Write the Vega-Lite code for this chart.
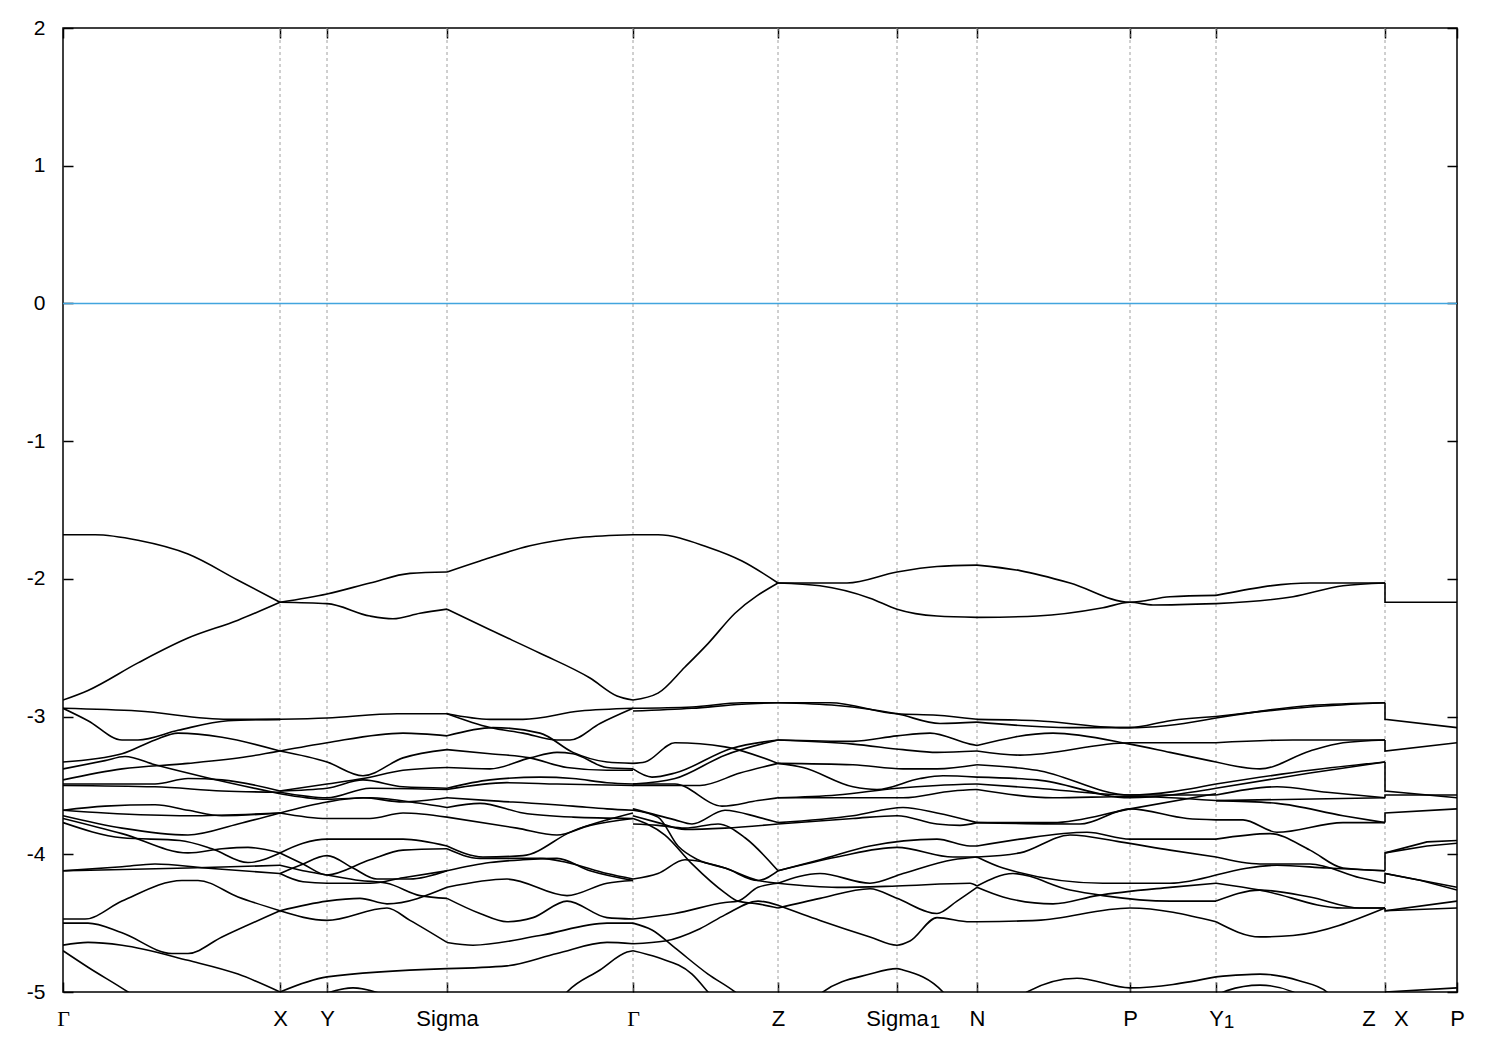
{
"$schema": "https://vega.github.io/schema/vega-lite/v6.json",
"width": 1394, "height": 964,
"autosize": "none",
"padding": {"left": 63, "top": 28, "right": 43, "bottom": 58},
"background": "white",
"config": {"view": {"stroke": "black", "strokeWidth": 1.5}, "font": "Liberation Sans"},
"resolve": {"axis": {"x": "independent", "y": "independent"}},
"datasets": {
"sym": [{"k":217},{"k":264},{"k":384},{"k":570},{"k":715},{"k":834},{"k":914},{"k":1067},{"k":1153},{"k":1322}],
"subs": [{"k":834,"t":"1","w":"Sigma"},{"k":1153,"t":"1","w":"Y"}],
"zx": [
{"s":"q1","i":0,"k":1322,"e":-2.03},{"s":"q1","i":1,"k":1322,"e":-2.17},{"s":"q1","i":2,"k":1394,"e":-2.17},
{"s":"q2","i":0,"k":1322,"e":-2.90},{"s":"q2","i":1,"k":1322,"e":-3.02},{"s":"q2","i":2,"k":1394,"e":-3.08},
{"s":"q3","i":0,"k":1322,"e":-3.17},{"s":"q3","i":1,"k":1322,"e":-3.25},{"s":"q3","i":2,"k":1394,"e":-3.19},
{"s":"q4","i":0,"k":1322,"e":-3.33},{"s":"q4","i":1,"k":1322,"e":-3.54},{"s":"q4","i":2,"k":1394,"e":-3.59},
{"s":"q5","i":0,"k":1322,"e":-3.59},{"s":"q5","i":1,"k":1322,"e":-3.57},{"s":"q5","i":2,"k":1394,"e":-3.57},
{"s":"q6","i":0,"k":1322,"e":-3.77},{"s":"q6","i":1,"k":1322,"e":-3.70},{"s":"q6","i":2,"k":1394,"e":-3.67},
{"s":"q7","i":0,"k":1322,"e":-4.12},{"s":"q7","i":1,"k":1322,"e":-3.99},{"s":"q7","i":2,"k":1364,"e":-3.91},{"s":"q7","i":3,"k":1394,"e":-3.90},
{"s":"q7b","i":0,"k":1322,"e":-3.99},{"s":"q7b","i":1,"k":1364,"e":-3.94},{"s":"q7b","i":2,"k":1394,"e":-3.92},
{"s":"q8","i":0,"k":1322,"e":-4.21},{"s":"q8","i":1,"k":1322,"e":-4.14},{"s":"q8","i":2,"k":1394,"e":-4.24},
{"s":"q8b","i":0,"k":1322,"e":-4.14},{"s":"q8b","i":1,"k":1358,"e":-4.19},{"s":"q8b","i":2,"k":1394,"e":-4.26},
{"s":"q9","i":0,"k":1322,"e":-4.39},{"s":"q9","i":1,"k":1322,"e":-4.41},{"s":"q9","i":2,"k":1394,"e":-4.34},
{"s":"q10","i":0,"k":1322,"e":-4.41},{"s":"q10","i":1,"k":1394,"e":-4.39},
{"s":"q11","i":0,"k":1322,"e":-5.00},{"s":"q11","i":1,"k":1394,"e":-4.97}
],
"bands": [
{"s":"g1","k":0,"e":-1.68},{"s":"g1","k":32,"e":-1.68},{"s":"g1","k":75,"e":-1.72},{"s":"g1","k":125,"e":-1.82},{"s":"g1","k":175,"e":-2.01},{"s":"g1","k":217,"e":-2.17},
{"s":"g2","k":0,"e":-2.88},{"s":"g2","k":25,"e":-2.81},{"s":"g2","k":75,"e":-2.61},{"s":"g2","k":125,"e":-2.43},{"s":"g2","k":175,"e":-2.30},{"s":"g2","k":217,"e":-2.17},
{"s":"g3","k":0,"e":-2.94},{"s":"g3","k":75,"e":-2.96},{"s":"g3","k":165,"e":-3.02},{"s":"g3","k":217,"e":-3.02},
{"s":"g4","k":0,"e":-2.94},{"s":"g4","k":25,"e":-3.03},{"s":"g4","k":59,"e":-3.17},{"s":"g4","k":75,"e":-3.17},{"s":"g4","k":115,"e":-3.10},{"s":"g4","k":165,"e":-3.03},{"s":"g4","k":217,"e":-3.02},
{"s":"g5","k":0,"e":-3.33},{"s":"g5","k":59,"e":-3.27},{"s":"g5","k":92,"e":-3.17},{"s":"g5","k":115,"e":-3.12},{"s":"g5","k":159,"e":-3.15},{"s":"g5","k":217,"e":-3.25},
{"s":"g6","k":0,"e":-3.38},{"s":"g6","k":42,"e":-3.32},{"s":"g6","k":62,"e":-3.29},{"s":"g6","k":92,"e":-3.35},{"s":"g6","k":142,"e":-3.44},{"s":"g6","k":217,"e":-3.56},
{"s":"g7","k":0,"e":-3.46},{"s":"g7","k":59,"e":-3.38},{"s":"g7","k":125,"e":-3.34},{"s":"g7","k":185,"e":-3.29},{"s":"g7","k":217,"e":-3.25},
{"s":"g8","k":0,"e":-3.49},{"s":"g8","k":92,"e":-3.49},{"s":"g8","k":125,"e":-3.45},{"s":"g8","k":159,"e":-3.46},{"s":"g8","k":217,"e":-3.54},
{"s":"g9","k":0,"e":-3.50},{"s":"g9","k":92,"e":-3.51},{"s":"g9","k":159,"e":-3.54},{"s":"g9","k":217,"e":-3.55},
{"s":"g10","k":0,"e":-3.68},{"s":"g10","k":42,"e":-3.65},{"s":"g10","k":92,"e":-3.64},{"s":"g10","k":125,"e":-3.68},{"s":"g10","k":159,"e":-3.72},{"s":"g10","k":217,"e":-3.70},
{"s":"g11","k":0,"e":-3.68},{"s":"g11","k":42,"e":-3.70},{"s":"g11","k":125,"e":-3.72},{"s":"g11","k":217,"e":-3.70},
{"s":"g12","k":0,"e":-3.72},{"s":"g12","k":59,"e":-3.81},{"s":"g12","k":125,"e":-3.86},{"s":"g12","k":175,"e":-3.78},{"s":"g12","k":217,"e":-3.70},
{"s":"g13","k":0,"e":-3.74},{"s":"g13","k":59,"e":-3.85},{"s":"g13","k":125,"e":-3.99},{"s":"g13","k":159,"e":-3.96},{"s":"g13","k":185,"e":-3.95},{"s":"g13","k":217,"e":-3.99},
{"s":"g14","k":0,"e":-3.77},{"s":"g14","k":59,"e":-3.88},{"s":"g14","k":117,"e":-3.90},{"s":"g14","k":149,"e":-3.96},{"s":"g14","k":185,"e":-4.06},{"s":"g14","k":217,"e":-3.99},
{"s":"g15","k":0,"e":-4.12},{"s":"g15","k":59,"e":-4.09},{"s":"g15","k":92,"e":-4.07},{"s":"g15","k":142,"e":-4.10},{"s":"g15","k":217,"e":-4.14},
{"s":"g16","k":0,"e":-4.12},{"s":"g16","k":125,"e":-4.10},{"s":"g16","k":217,"e":-4.08},
{"s":"g17","k":0,"e":-4.47},{"s":"g17","k":22,"e":-4.47},{"s":"g17","k":59,"e":-4.34},{"s":"g17","k":119,"e":-4.19},{"s":"g17","k":135,"e":-4.19},{"s":"g17","k":175,"e":-4.31},{"s":"g17","k":217,"e":-4.41},
{"s":"g18","k":0,"e":-4.50},{"s":"g18","k":25,"e":-4.50},{"s":"g18","k":59,"e":-4.57},{"s":"g18","k":109,"e":-4.72},{"s":"g18","k":125,"e":-4.72},{"s":"g18","k":159,"e":-4.60},{"s":"g18","k":217,"e":-4.41},
{"s":"g19","k":0,"e":-4.66},{"s":"g19","k":25,"e":-4.64},{"s":"g19","k":59,"e":-4.66},{"s":"g19","k":125,"e":-4.77},{"s":"g19","k":175,"e":-4.87},{"s":"g19","k":217,"e":-5.00},
{"s":"g20","k":0,"e":-4.70},{"s":"g20","k":25,"e":-4.82},{"s":"g20","k":65,"e":-5.00},{"s":"g20","k":77,"e":-5.06},
{"s":"h1","k":217,"e":-2.17},{"s":"h1","k":264,"e":-2.11},{"s":"h1","k":307,"e":-2.03},{"s":"h1","k":347,"e":-1.96},{"s":"h1","k":384,"e":-1.95},
{"s":"h2","k":217,"e":-2.17},{"s":"h2","k":264,"e":-2.18},{"s":"h2","k":307,"e":-2.27},{"s":"h2","k":330,"e":-2.29},{"s":"h2","k":357,"e":-2.25},{"s":"h2","k":384,"e":-2.22},
{"s":"h3","k":217,"e":-3.02},{"s":"h3","k":264,"e":-3.01},{"s":"h3","k":334,"e":-2.98},{"s":"h3","k":384,"e":-2.98},
{"s":"h5","k":217,"e":-3.25},{"s":"h5","k":264,"e":-3.19},{"s":"h5","k":340,"e":-3.12},{"s":"h5","k":384,"e":-3.14},
{"s":"h6","k":217,"e":-3.25},{"s":"h6","k":264,"e":-3.33},{"s":"h6","k":300,"e":-3.43},{"s":"h6","k":340,"e":-3.30},{"s":"h6","k":384,"e":-3.24},
{"s":"h7","k":217,"e":-3.54},{"s":"h7","k":264,"e":-3.49},{"s":"h7","k":300,"e":-3.45},{"s":"h7","k":340,"e":-3.39},{"s":"h7","k":384,"e":-3.37},
{"s":"h8","k":217,"e":-3.54},{"s":"h8","k":264,"e":-3.52},{"s":"h8","k":300,"e":-3.46},{"s":"h8","k":340,"e":-3.51},{"s":"h8","k":384,"e":-3.52},
{"s":"h9","k":217,"e":-3.55},{"s":"h9","k":264,"e":-3.59},{"s":"h9","k":307,"e":-3.52},{"s":"h9","k":384,"e":-3.53},
{"s":"h10","k":217,"e":-3.56},{"s":"h10","k":264,"e":-3.60},{"s":"h10","k":307,"e":-3.59},{"s":"h10","k":357,"e":-3.63},{"s":"h10","k":384,"e":-3.66},
{"s":"h11","k":217,"e":-3.70},{"s":"h11","k":264,"e":-3.62},{"s":"h11","k":300,"e":-3.59},{"s":"h11","k":340,"e":-3.62},{"s":"h11","k":384,"e":-3.59},
{"s":"h12","k":217,"e":-3.70},{"s":"h12","k":264,"e":-3.74},{"s":"h12","k":307,"e":-3.74},{"s":"h12","k":340,"e":-3.70},{"s":"h12","k":384,"e":-3.73},
{"s":"h13","k":217,"e":-3.99},{"s":"h13","k":240,"e":-3.92},{"s":"h13","k":264,"e":-3.89},{"s":"h13","k":340,"e":-3.89},{"s":"h13","k":384,"e":-3.94},
{"s":"h14","k":217,"e":-3.99},{"s":"h14","k":240,"e":-4.07},{"s":"h14","k":264,"e":-4.15},{"s":"h14","k":307,"e":-4.04},{"s":"h14","k":340,"e":-3.97},{"s":"h14","k":384,"e":-3.96},
{"s":"h15","k":217,"e":-4.14},{"s":"h15","k":237,"e":-4.08},{"s":"h15","k":264,"e":-4.01},{"s":"h15","k":290,"e":-4.10},{"s":"h15","k":314,"e":-4.18},{"s":"h15","k":347,"e":-4.18},{"s":"h15","k":384,"e":-4.12},
{"s":"h16","k":217,"e":-4.14},{"s":"h16","k":240,"e":-4.20},{"s":"h16","k":264,"e":-4.21},{"s":"h16","k":307,"e":-4.21},{"s":"h16","k":340,"e":-4.17},{"s":"h16","k":384,"e":-4.12},
{"s":"h17","k":217,"e":-4.08},{"s":"h17","k":240,"e":-4.12},{"s":"h17","k":264,"e":-4.15},{"s":"h17","k":297,"e":-4.19},{"s":"h17","k":324,"e":-4.21},{"s":"h17","k":357,"e":-4.30},{"s":"h17","k":384,"e":-4.32},
{"s":"h18","k":217,"e":-4.41},{"s":"h18","k":264,"e":-4.34},{"s":"h18","k":297,"e":-4.32},{"s":"h18","k":324,"e":-4.36},{"s":"h18","k":384,"e":-4.24},
{"s":"h19","k":217,"e":-4.41},{"s":"h19","k":264,"e":-4.48},{"s":"h19","k":324,"e":-4.39},{"s":"h19","k":347,"e":-4.48},{"s":"h19","k":384,"e":-4.64},
{"s":"h20","k":217,"e":-5.00},{"s":"h20","k":264,"e":-4.89},{"s":"h20","k":384,"e":-4.83},
{"s":"h21","k":255,"e":-5.03},{"s":"h21","k":290,"e":-4.97},{"s":"h21","k":325,"e":-5.03},
{"s":"i1","k":384,"e":-1.95},{"s":"i1","k":417,"e":-1.87},{"s":"i1","k":467,"e":-1.76},{"s":"i1","k":517,"e":-1.70},{"s":"i1","k":570,"e":-1.68},
{"s":"i2","k":384,"e":-2.22},{"s":"i2","k":427,"e":-2.37},{"s":"i2","k":477,"e":-2.54},{"s":"i2","k":527,"e":-2.72},{"s":"i2","k":554,"e":-2.85},{"s":"i2","k":570,"e":-2.88},
{"s":"i3","k":384,"e":-2.98},{"s":"i3","k":427,"e":-3.02},{"s":"i3","k":460,"e":-3.02},{"s":"i3","k":517,"e":-2.96},{"s":"i3","k":570,"e":-2.94},
{"s":"i4","k":384,"e":-2.98},{"s":"i4","k":427,"e":-3.08},{"s":"i4","k":460,"e":-3.12},{"s":"i4","k":494,"e":-3.17},{"s":"i4","k":507,"e":-3.17},{"s":"i4","k":537,"e":-3.05},{"s":"i4","k":570,"e":-2.94},
{"s":"i5","k":384,"e":-3.14},{"s":"i5","k":430,"e":-3.08},{"s":"i5","k":477,"e":-3.12},{"s":"i5","k":510,"e":-3.26},{"s":"i5","k":544,"e":-3.33},{"s":"i5","k":570,"e":-3.34},
{"s":"i6","k":384,"e":-3.24},{"s":"i6","k":427,"e":-3.27},{"s":"i6","k":467,"e":-3.30},{"s":"i6","k":504,"e":-3.37},{"s":"i6","k":544,"e":-3.39},{"s":"i6","k":570,"e":-3.39},
{"s":"i7","k":384,"e":-3.37},{"s":"i7","k":427,"e":-3.38},{"s":"i7","k":467,"e":-3.30},{"s":"i7","k":494,"e":-3.26},{"s":"i7","k":510,"e":-3.27},{"s":"i7","k":544,"e":-3.37},{"s":"i7","k":570,"e":-3.38},
{"s":"i8","k":384,"e":-3.52},{"s":"i8","k":427,"e":-3.46},{"s":"i8","k":477,"e":-3.44},{"s":"i8","k":510,"e":-3.45},{"s":"i8","k":544,"e":-3.48},{"s":"i8","k":570,"e":-3.49},
{"s":"i9","k":384,"e":-3.53},{"s":"i9","k":444,"e":-3.48},{"s":"i9","k":494,"e":-3.49},{"s":"i9","k":570,"e":-3.50},
{"s":"i10","k":384,"e":-3.59},{"s":"i10","k":427,"e":-3.61},{"s":"i10","k":510,"e":-3.65},{"s":"i10","k":544,"e":-3.67},{"s":"i10","k":570,"e":-3.68},
{"s":"i11","k":384,"e":-3.66},{"s":"i11","k":417,"e":-3.63},{"s":"i11","k":460,"e":-3.70},{"s":"i11","k":510,"e":-3.73},{"s":"i11","k":570,"e":-3.74},
{"s":"i12","k":384,"e":-3.73},{"s":"i12","k":454,"e":-3.81},{"s":"i12","k":494,"e":-3.86},{"s":"i12","k":527,"e":-3.79},{"s":"i12","k":570,"e":-3.74},
{"s":"i13","k":384,"e":-3.94},{"s":"i13","k":420,"e":-4.02},{"s":"i13","k":460,"e":-4.01},{"s":"i13","k":510,"e":-3.83},{"s":"i13","k":544,"e":-3.75},{"s":"i13","k":570,"e":-3.70},
{"s":"i14","k":384,"e":-3.96},{"s":"i14","k":417,"e":-4.03},{"s":"i14","k":477,"e":-4.03},{"s":"i14","k":504,"e":-4.06},{"s":"i14","k":544,"e":-4.14},{"s":"i14","k":570,"e":-4.18},
{"s":"i15","k":384,"e":-4.12},{"s":"i15","k":427,"e":-4.06},{"s":"i15","k":460,"e":-4.04},{"s":"i15","k":494,"e":-4.03},{"s":"i15","k":527,"e":-4.12},{"s":"i15","k":570,"e":-4.19},
{"s":"i16","k":384,"e":-4.24},{"s":"i16","k":444,"e":-4.18},{"s":"i16","k":504,"e":-4.30},{"s":"i16","k":544,"e":-4.21},{"s":"i16","k":570,"e":-4.19},
{"s":"i17","k":384,"e":-4.32},{"s":"i17","k":417,"e":-4.43},{"s":"i17","k":444,"e":-4.49},{"s":"i17","k":470,"e":-4.46},{"s":"i17","k":504,"e":-4.34},{"s":"i17","k":544,"e":-4.46},{"s":"i17","k":570,"e":-4.47},
{"s":"i18","k":384,"e":-4.64},{"s":"i18","k":410,"e":-4.66},{"s":"i18","k":477,"e":-4.59},{"s":"i18","k":544,"e":-4.50},{"s":"i18","k":570,"e":-4.50},
{"s":"i19","k":384,"e":-4.83},{"s":"i19","k":444,"e":-4.81},{"s":"i19","k":494,"e":-4.72},{"s":"i19","k":544,"e":-4.64},{"s":"i19","k":570,"e":-4.65},
{"s":"i20","k":497,"e":-5.06},{"s":"i20","k":504,"e":-5.00},{"s":"i20","k":537,"e":-4.84},{"s":"i20","k":564,"e":-4.71},{"s":"i20","k":570,"e":-4.70},
{"s":"j1","k":570,"e":-1.68},{"s":"j1","k":595,"e":-1.68},{"s":"j1","k":645,"e":-1.77},{"s":"j1","k":679,"e":-1.87},{"s":"j1","k":715,"e":-2.03},
{"s":"j2","k":570,"e":-2.88},{"s":"j2","k":595,"e":-2.83},{"s":"j2","k":622,"e":-2.64},{"s":"j2","k":645,"e":-2.47},{"s":"j2","k":672,"e":-2.25},{"s":"j2","k":715,"e":-2.03},
{"s":"j3","k":570,"e":-2.94},{"s":"j3","k":629,"e":-2.93},{"s":"j3","k":679,"e":-2.90},{"s":"j3","k":715,"e":-2.90},
{"s":"j3b","k":570,"e":-2.96},{"s":"j3b","k":629,"e":-2.94},{"s":"j3b","k":679,"e":-2.91},{"s":"j3b","k":715,"e":-2.90},
{"s":"j4","k":570,"e":-3.34},{"s":"j4","k":582,"e":-3.33},{"s":"j4","k":612,"e":-3.19},{"s":"j4","k":662,"e":-3.22},{"s":"j4","k":715,"e":-3.34},
{"s":"j5","k":570,"e":-3.38},{"s":"j5","k":589,"e":-3.44},{"s":"j5","k":612,"e":-3.41},{"s":"j5","k":669,"e":-3.23},{"s":"j5","k":715,"e":-3.17},
{"s":"j6","k":570,"e":-3.49},{"s":"j6","k":612,"e":-3.45},{"s":"j6","k":662,"e":-3.28},{"s":"j6","k":715,"e":-3.17},
{"s":"j7","k":570,"e":-3.50},{"s":"j7","k":637,"e":-3.50},{"s":"j7","k":677,"e":-3.41},{"s":"j7","k":715,"e":-3.34},
{"s":"j8","k":570,"e":-3.49},{"s":"j8","k":612,"e":-3.49},{"s":"j8","k":659,"e":-3.65},{"s":"j8","k":695,"e":-3.61},{"s":"j8","k":715,"e":-3.59},
{"s":"j9","k":570,"e":-3.67},{"s":"j9","k":612,"e":-3.75},{"s":"j9","k":629,"e":-3.78},{"s":"j9","k":662,"e":-3.68},{"s":"j9","k":695,"e":-3.73},{"s":"j9","k":715,"e":-3.77},
{"s":"j10","k":570,"e":-3.72},{"s":"j10","k":595,"e":-3.77},{"s":"j10","k":622,"e":-3.82},{"s":"j10","k":662,"e":-3.81},{"s":"j10","k":715,"e":-3.78},
{"s":"j11","k":570,"e":-3.78},{"s":"j11","k":595,"e":-3.79},{"s":"j11","k":622,"e":-3.81},{"s":"j11","k":655,"e":-3.78},{"s":"j11","k":682,"e":-3.88},{"s":"j11","k":715,"e":-4.12},
{"s":"j12","k":570,"e":-3.68},{"s":"j12","k":595,"e":-3.73},{"s":"j12","k":615,"e":-3.94},{"s":"j12","k":635,"e":-4.04},{"s":"j12","k":662,"e":-4.10},{"s":"j12","k":695,"e":-4.19},{"s":"j12","k":715,"e":-4.21},
{"s":"j13","k":570,"e":-4.18},{"s":"j13","k":595,"e":-4.14},{"s":"j13","k":622,"e":-4.04},{"s":"j13","k":662,"e":-4.10},{"s":"j13","k":695,"e":-4.19},{"s":"j13","k":715,"e":-4.12},
{"s":"j14","k":570,"e":-3.74},{"s":"j14","k":602,"e":-3.86},{"s":"j14","k":629,"e":-4.07},{"s":"j14","k":662,"e":-4.28},{"s":"j14","k":675,"e":-4.34},{"s":"j14","k":695,"e":-4.36},{"s":"j14","k":715,"e":-4.39},
{"s":"j15","k":570,"e":-4.47},{"s":"j15","k":612,"e":-4.43},{"s":"j15","k":662,"e":-4.35},{"s":"j15","k":675,"e":-4.34},{"s":"j15","k":695,"e":-4.24},{"s":"j15","k":715,"e":-4.21},
{"s":"j16","k":570,"e":-4.50},{"s":"j16","k":589,"e":-4.55},{"s":"j16","k":612,"e":-4.68},{"s":"j16","k":645,"e":-4.87},{"s":"j16","k":672,"e":-5.00},{"s":"j16","k":682,"e":-5.06},
{"s":"j17","k":570,"e":-4.65},{"s":"j17","k":602,"e":-4.63},{"s":"j17","k":637,"e":-4.54},{"s":"j17","k":662,"e":-4.44},{"s":"j17","k":695,"e":-4.34},{"s":"j17","k":715,"e":-4.37},
{"s":"j18","k":570,"e":-4.70},{"s":"j18","k":595,"e":-4.75},{"s":"j18","k":629,"e":-4.87},{"s":"j18","k":645,"e":-5.00},{"s":"j18","k":652,"e":-5.06},
{"s":"m1","k":715,"e":-2.03},{"s":"m1","k":784,"e":-2.03},{"s":"m1","k":834,"e":-1.95},{"s":"m1","k":874,"e":-1.91},{"s":"m1","k":914,"e":-1.90},
{"s":"m2","k":715,"e":-2.03},{"s":"m2","k":757,"e":-2.05},{"s":"m2","k":807,"e":-2.14},{"s":"m2","k":834,"e":-2.22},{"s":"m2","k":874,"e":-2.27},{"s":"m2","k":914,"e":-2.28},
{"s":"m3","k":715,"e":-2.90},{"s":"m3","k":767,"e":-2.90},{"s":"m3","k":834,"e":-2.98},{"s":"m3","k":874,"e":-2.99},{"s":"m3","k":914,"e":-3.02},
{"s":"m4","k":715,"e":-2.90},{"s":"m4","k":774,"e":-2.92},{"s":"m4","k":834,"e":-2.98},{"s":"m4","k":877,"e":-3.05},{"s":"m4","k":914,"e":-3.04},
{"s":"m5","k":715,"e":-3.17},{"s":"m5","k":790,"e":-3.18},{"s":"m5","k":834,"e":-3.14},{"s":"m5","k":867,"e":-3.12},{"s":"m5","k":907,"e":-3.20},{"s":"m5","k":914,"e":-3.21},
{"s":"m6","k":715,"e":-3.17},{"s":"m6","k":790,"e":-3.20},{"s":"m6","k":840,"e":-3.24},{"s":"m6","k":874,"e":-3.26},{"s":"m6","k":914,"e":-3.25},
{"s":"m7","k":715,"e":-3.34},{"s":"m7","k":790,"e":-3.35},{"s":"m7","k":840,"e":-3.38},{"s":"m7","k":874,"e":-3.38},{"s":"m7","k":914,"e":-3.35},
{"s":"m8","k":715,"e":-3.34},{"s":"m8","k":740,"e":-3.37},{"s":"m8","k":790,"e":-3.51},{"s":"m8","k":814,"e":-3.53},{"s":"m8","k":857,"e":-3.45},{"s":"m8","k":880,"e":-3.43},{"s":"m8","k":914,"e":-3.44},
{"s":"m9","k":715,"e":-3.59},{"s":"m9","k":774,"e":-3.57},{"s":"m9","k":834,"e":-3.52},{"s":"m9","k":874,"e":-3.50},{"s":"m9","k":914,"e":-3.49},
{"s":"m10","k":715,"e":-3.59},{"s":"m10","k":774,"e":-3.59},{"s":"m10","k":840,"e":-3.59},{"s":"m10","k":890,"e":-3.54},{"s":"m10","k":914,"e":-3.53},
{"s":"m11","k":715,"e":-3.77},{"s":"m11","k":790,"e":-3.72},{"s":"m11","k":840,"e":-3.66},{"s":"m11","k":874,"e":-3.70},{"s":"m11","k":914,"e":-3.77},
{"s":"m12","k":715,"e":-3.78},{"s":"m12","k":790,"e":-3.74},{"s":"m12","k":834,"e":-3.72},{"s":"m12","k":874,"e":-3.78},{"s":"m12","k":897,"e":-3.79},{"s":"m12","k":914,"e":-3.77},
{"s":"m13","k":715,"e":-4.12},{"s":"m13","k":757,"e":-4.04},{"s":"m13","k":807,"e":-3.94},{"s":"m13","k":874,"e":-3.89},{"s":"m13","k":907,"e":-3.94},{"s":"m13","k":914,"e":-3.94},
{"s":"m14","k":715,"e":-4.12},{"s":"m14","k":774,"e":-4.02},{"s":"m14","k":834,"e":-3.95},{"s":"m14","k":890,"e":-4.02},{"s":"m14","k":914,"e":-4.02},
{"s":"m15","k":715,"e":-4.21},{"s":"m15","k":757,"e":-4.14},{"s":"m15","k":807,"e":-4.21},{"s":"m15","k":840,"e":-4.14},{"s":"m15","k":890,"e":-4.04},{"s":"m15","k":914,"e":-4.02},
{"s":"m16","k":715,"e":-4.21},{"s":"m16","k":774,"e":-4.24},{"s":"m16","k":834,"e":-4.23},{"s":"m16","k":907,"e":-4.21},{"s":"m16","k":914,"e":-4.23},
{"s":"m17","k":715,"e":-4.39},{"s":"m17","k":757,"e":-4.32},{"s":"m17","k":807,"e":-4.25},{"s":"m17","k":834,"e":-4.32},{"s":"m17","k":874,"e":-4.43},{"s":"m17","k":894,"e":-4.34},{"s":"m17","k":914,"e":-4.24},
{"s":"m18","k":715,"e":-4.37},{"s":"m18","k":757,"e":-4.48},{"s":"m18","k":807,"e":-4.60},{"s":"m18","k":834,"e":-4.66},{"s":"m18","k":847,"e":-4.63},{"s":"m18","k":874,"e":-4.46},{"s":"m18","k":907,"e":-4.49},{"s":"m18","k":914,"e":-4.49},
{"s":"m19","k":752,"e":-5.06},{"s":"m19","k":760,"e":-5.00},{"s":"m19","k":807,"e":-4.87},{"s":"m19","k":834,"e":-4.83},{"s":"m19","k":840,"e":-4.84},{"s":"m19","k":880,"e":-5.00},{"s":"m19","k":887,"e":-5.06},
{"s":"n1","k":914,"e":-1.90},{"s":"n1","k":957,"e":-1.94},{"s":"n1","k":1007,"e":-2.03},{"s":"n1","k":1067,"e":-2.17},{"s":"n1","k":1107,"e":-2.13},{"s":"n1","k":1153,"e":-2.12},
{"s":"n2","k":914,"e":-2.28},{"s":"n2","k":974,"e":-2.27},{"s":"n2","k":1040,"e":-2.21},{"s":"n2","k":1067,"e":-2.17},{"s":"n2","k":1090,"e":-2.19},{"s":"n2","k":1153,"e":-2.18},
{"s":"n3","k":914,"e":-3.02},{"s":"n3","k":974,"e":-3.03},{"s":"n3","k":1057,"e":-3.08},{"s":"n3","k":1074,"e":-3.08},{"s":"n3","k":1153,"e":-3.01},
{"s":"n4","k":914,"e":-3.04},{"s":"n4","k":1007,"e":-3.08},{"s":"n4","k":1067,"e":-3.08},{"s":"n4","k":1107,"e":-3.03},{"s":"n4","k":1153,"e":-3.00},
{"s":"n5","k":914,"e":-3.21},{"s":"n5","k":990,"e":-3.12},{"s":"n5","k":1067,"e":-3.20},{"s":"n5","k":1107,"e":-3.26},{"s":"n5","k":1153,"e":-3.33},
{"s":"n6","k":914,"e":-3.25},{"s":"n6","k":957,"e":-3.28},{"s":"n6","k":1067,"e":-3.19},{"s":"n6","k":1153,"e":-3.19},
{"s":"n7","k":914,"e":-3.35},{"s":"n7","k":974,"e":-3.39},{"s":"n7","k":1067,"e":-3.57},{"s":"n7","k":1153,"e":-3.49},
{"s":"n8","k":914,"e":-3.44},{"s":"n8","k":974,"e":-3.46},{"s":"n8","k":1067,"e":-3.59},{"s":"n8","k":1153,"e":-3.52},
{"s":"n9","k":914,"e":-3.49},{"s":"n9","k":974,"e":-3.52},{"s":"n9","k":1067,"e":-3.57},{"s":"n9","k":1153,"e":-3.57},
{"s":"n10","k":914,"e":-3.53},{"s":"n10","k":990,"e":-3.59},{"s":"n10","k":1067,"e":-3.58},{"s":"n10","k":1153,"e":-3.61},
{"s":"n11","k":914,"e":-3.77},{"s":"n11","k":990,"e":-3.77},{"s":"n11","k":1067,"e":-3.67},{"s":"n11","k":1153,"e":-3.56},
{"s":"n12","k":914,"e":-3.77},{"s":"n12","k":1017,"e":-3.78},{"s":"n12","k":1067,"e":-3.67},{"s":"n12","k":1124,"e":-3.74},{"s":"n12","k":1153,"e":-3.75},
{"s":"n13","k":914,"e":-3.94},{"s":"n13","k":957,"e":-3.89},{"s":"n13","k":1024,"e":-3.84},{"s":"n13","k":1067,"e":-3.89},{"s":"n13","k":1153,"e":-3.89},
{"s":"n14","k":914,"e":-4.02},{"s":"n14","k":957,"e":-3.99},{"s":"n14","k":1007,"e":-3.86},{"s":"n14","k":1057,"e":-3.91},{"s":"n14","k":1107,"e":-3.97},{"s":"n14","k":1153,"e":-4.02},
{"s":"n15","k":914,"e":-4.02},{"s":"n15","k":940,"e":-4.10},{"s":"n15","k":1040,"e":-4.21},{"s":"n15","k":1107,"e":-4.21},{"s":"n15","k":1153,"e":-4.15},
{"s":"n16","k":914,"e":-4.23},{"s":"n16","k":950,"e":-4.14},{"s":"n16","k":1007,"e":-4.26},{"s":"n16","k":1040,"e":-4.30},{"s":"n16","k":1107,"e":-4.34},{"s":"n16","k":1153,"e":-4.34},
{"s":"n17","k":914,"e":-4.24},{"s":"n17","k":940,"e":-4.31},{"s":"n17","k":990,"e":-4.36},{"s":"n17","k":1034,"e":-4.30},{"s":"n17","k":1107,"e":-4.24},{"s":"n17","k":1153,"e":-4.21},
{"s":"n18","k":914,"e":-4.49},{"s":"n18","k":974,"e":-4.48},{"s":"n18","k":1067,"e":-4.39},{"s":"n18","k":1153,"e":-4.49},
{"s":"n19","k":957,"e":-5.06},{"s":"n19","k":964,"e":-5.00},{"s":"n19","k":1014,"e":-4.90},{"s":"n19","k":1067,"e":-4.97},{"s":"n19","k":1153,"e":-4.89},
{"s":"p1","k":1153,"e":-2.12},{"s":"p1","k":1247,"e":-2.03},{"s":"p1","k":1322,"e":-2.03},
{"s":"p2","k":1153,"e":-2.18},{"s":"p2","k":1230,"e":-2.13},{"s":"p2","k":1280,"e":-2.05},{"s":"p2","k":1322,"e":-2.03},
{"s":"p3","k":1153,"e":-3.01},{"s":"p3","k":1247,"e":-2.92},{"s":"p3","k":1322,"e":-2.90},
{"s":"p4","k":1153,"e":-3.00},{"s":"p4","k":1247,"e":-2.93},{"s":"p4","k":1322,"e":-2.90},
{"s":"p5","k":1153,"e":-3.19},{"s":"p5","k":1230,"e":-3.17},{"s":"p5","k":1322,"e":-3.17},
{"s":"p6","k":1153,"e":-3.33},{"s":"p6","k":1197,"e":-3.38},{"s":"p6","k":1247,"e":-3.25},{"s":"p6","k":1280,"e":-3.19},{"s":"p6","k":1322,"e":-3.17},
{"s":"p7","k":1153,"e":-3.49},{"s":"p7","k":1247,"e":-3.39},{"s":"p7","k":1322,"e":-3.33},
{"s":"p8","k":1153,"e":-3.52},{"s":"p8","k":1247,"e":-3.41},{"s":"p8","k":1322,"e":-3.33},
{"s":"p9","k":1153,"e":-3.57},{"s":"p9","k":1214,"e":-3.51},{"s":"p9","k":1264,"e":-3.55},{"s":"p9","k":1322,"e":-3.59},
{"s":"p10","k":1153,"e":-3.61},{"s":"p10","k":1214,"e":-3.63},{"s":"p10","k":1280,"e":-3.72},{"s":"p10","k":1322,"e":-3.77},
{"s":"p11","k":1153,"e":-3.61},{"s":"p11","k":1322,"e":-3.59},
{"s":"p12","k":1153,"e":-3.75},{"s":"p12","k":1180,"e":-3.75},{"s":"p12","k":1214,"e":-3.84},{"s":"p12","k":1280,"e":-3.77},{"s":"p12","k":1322,"e":-3.77},
{"s":"p13","k":1153,"e":-3.89},{"s":"p13","k":1207,"e":-3.85},{"s":"p13","k":1247,"e":-3.97},{"s":"p13","k":1280,"e":-4.10},{"s":"p13","k":1322,"e":-4.12},
{"s":"p14","k":1153,"e":-4.02},{"s":"p14","k":1197,"e":-4.07},{"s":"p14","k":1247,"e":-4.07},{"s":"p14","k":1297,"e":-4.17},{"s":"p14","k":1322,"e":-4.21},
{"s":"p15","k":1153,"e":-4.15},{"s":"p15","k":1214,"e":-4.08},{"s":"p15","k":1264,"e":-4.10},{"s":"p15","k":1322,"e":-4.12},
{"s":"p16","k":1153,"e":-4.21},{"s":"p16","k":1197,"e":-4.26},{"s":"p16","k":1280,"e":-4.39},{"s":"p16","k":1322,"e":-4.39},
{"s":"p17","k":1153,"e":-4.34},{"s":"p17","k":1197,"e":-4.26},{"s":"p17","k":1247,"e":-4.31},{"s":"p17","k":1297,"e":-4.39},{"s":"p17","k":1322,"e":-4.39},
{"s":"p18","k":1153,"e":-4.49},{"s":"p18","k":1197,"e":-4.60},{"s":"p18","k":1230,"e":-4.59},{"s":"p18","k":1322,"e":-4.39},
{"s":"p19","k":1153,"e":-4.89},{"s":"p19","k":1197,"e":-4.87},{"s":"p19","k":1237,"e":-4.92},{"s":"p19","k":1264,"e":-5.00},{"s":"p19","k":1272,"e":-5.06},
{"s":"p20","k":1152,"e":-5.03},{"s":"p20","k":1164,"e":-4.99},{"s":"p20","k":1197,"e":-4.95},{"s":"p20","k":1230,"e":-5.00},{"s":"p20","k":1237,"e":-5.03}
]
},
"layer": [
{
"data": {"name": "sym"},
"mark": {"type": "rule", "color": "#a0a0a0", "strokeDash": [3, 3], "strokeWidth": 1},
"encoding": {
"x": {"field": "k", "type": "quantitative", "scale": {"domain": [0, 1394], "nice": false, "zero": false},
"axis": {"orient": "top", "values": [0,217,264,384,570,715,834,914,1067,1153,1322,1394], "labels": false, "tickSize": -10, "tickColor": "black", "tickWidth": 1.5, "domain": false, "grid": false, "title": null}}
}
},
{
"data": {"values": [{"e0": 0}]},
"mark": {"type": "rule", "color": "#42a5de", "strokeWidth": 1.5},
"encoding": {
"y": {"field": "e0", "type": "quantitative", "scale": {"domain": [-5, 2], "nice": false, "zero": false},
"axis": {"orient": "right", "values": [-5,-4,-3,-2,-1,0,1,2], "labels": false, "tickSize": -10, "tickColor": "black", "tickWidth": 1.5, "domain": false, "grid": false, "title": null}}
}
},
{
"data": {"name": "bands"},
"mark": {"type": "line", "interpolate": "monotone", "color": "black", "strokeWidth": 1.6, "clip": true},
"encoding": {
"x": {"field": "k", "type": "quantitative", "scale": {"domain": [0, 1394], "nice": false, "zero": false},
"axis": {"orient": "bottom", "values": [0,217,264,384,570,715,834,914,1067,1153,1322,1394],
"labelExpr": "datum.value==0||datum.value==570?'Γ':datum.value==217?'X':datum.value==264?'Y':datum.value==384?'Sigma':datum.value==715?'Z':datum.value==834?'Sigma':datum.value==914?'N':datum.value==1067||datum.value==1394?'P':datum.value==1153?'Y':datum.value==1322?'Z\u00a0\u00a0\u00a0X':''",
"labelFont": {"condition": {"test": "datum.value==0||datum.value==570", "value": "Liberation Serif"}, "value": "Liberation Sans"},
"labelFontSize": 22, "labelColor": "black", "labelFlush": false, "labelOverlap": false, "labelPadding": 26,
"tickSize": -10, "tickColor": "black", "tickWidth": 1.5, "domain": false, "grid": false, "title": null}},
"y": {"field": "e", "type": "quantitative", "scale": {"domain": [-5, 2], "nice": false, "zero": false},
"axis": {"orient": "left", "values": [-5,-4,-3,-2,-1,0,1,2], "labelExpr": "''+datum.value", "labelFontSize": 21, "labelColor": "black", "labelPadding": 28,
"tickSize": -10, "tickColor": "black", "tickWidth": 1.5, "domain": false, "grid": false, "title": null}},
"detail": {"field": "s", "type": "nominal"}
}
},
{
"data": {"name": "zx"},
"mark": {"type": "line", "interpolate": "linear", "color": "black", "strokeWidth": 1.6, "clip": true},
"encoding": {
"x": {"field": "k", "type": "quantitative", "axis": null},
"y": {"field": "e", "type": "quantitative", "axis": null},
"detail": {"field": "s", "type": "nominal"},
"order": {"field": "i", "type": "quantitative"}
}
},
{
"data": {"name": "subs"},
"transform": [{"filter": "datum.w=='Sigma'"}],
"mark": {"type": "text", "fontSize": 19, "color": "black", "baseline": "top", "align": "center", "dx": 38, "dy": 21},
"encoding": {
"x": {"field": "k", "type": "quantitative", "axis": null},
"y": {"datum": -5, "type": "quantitative", "axis": null},
"text": {"field": "t"}
}
},
{
"data": {"name": "subs"},
"transform": [{"filter": "datum.w=='Y'"}],
"mark": {"type": "text", "fontSize": 19, "color": "black", "baseline": "top", "align": "center", "dx": 13, "dy": 21},
"encoding": {
"x": {"field": "k", "type": "quantitative", "axis": null},
"y": {"datum": -5, "type": "quantitative", "axis": null},
"text": {"field": "t"}
}
}
]
}
